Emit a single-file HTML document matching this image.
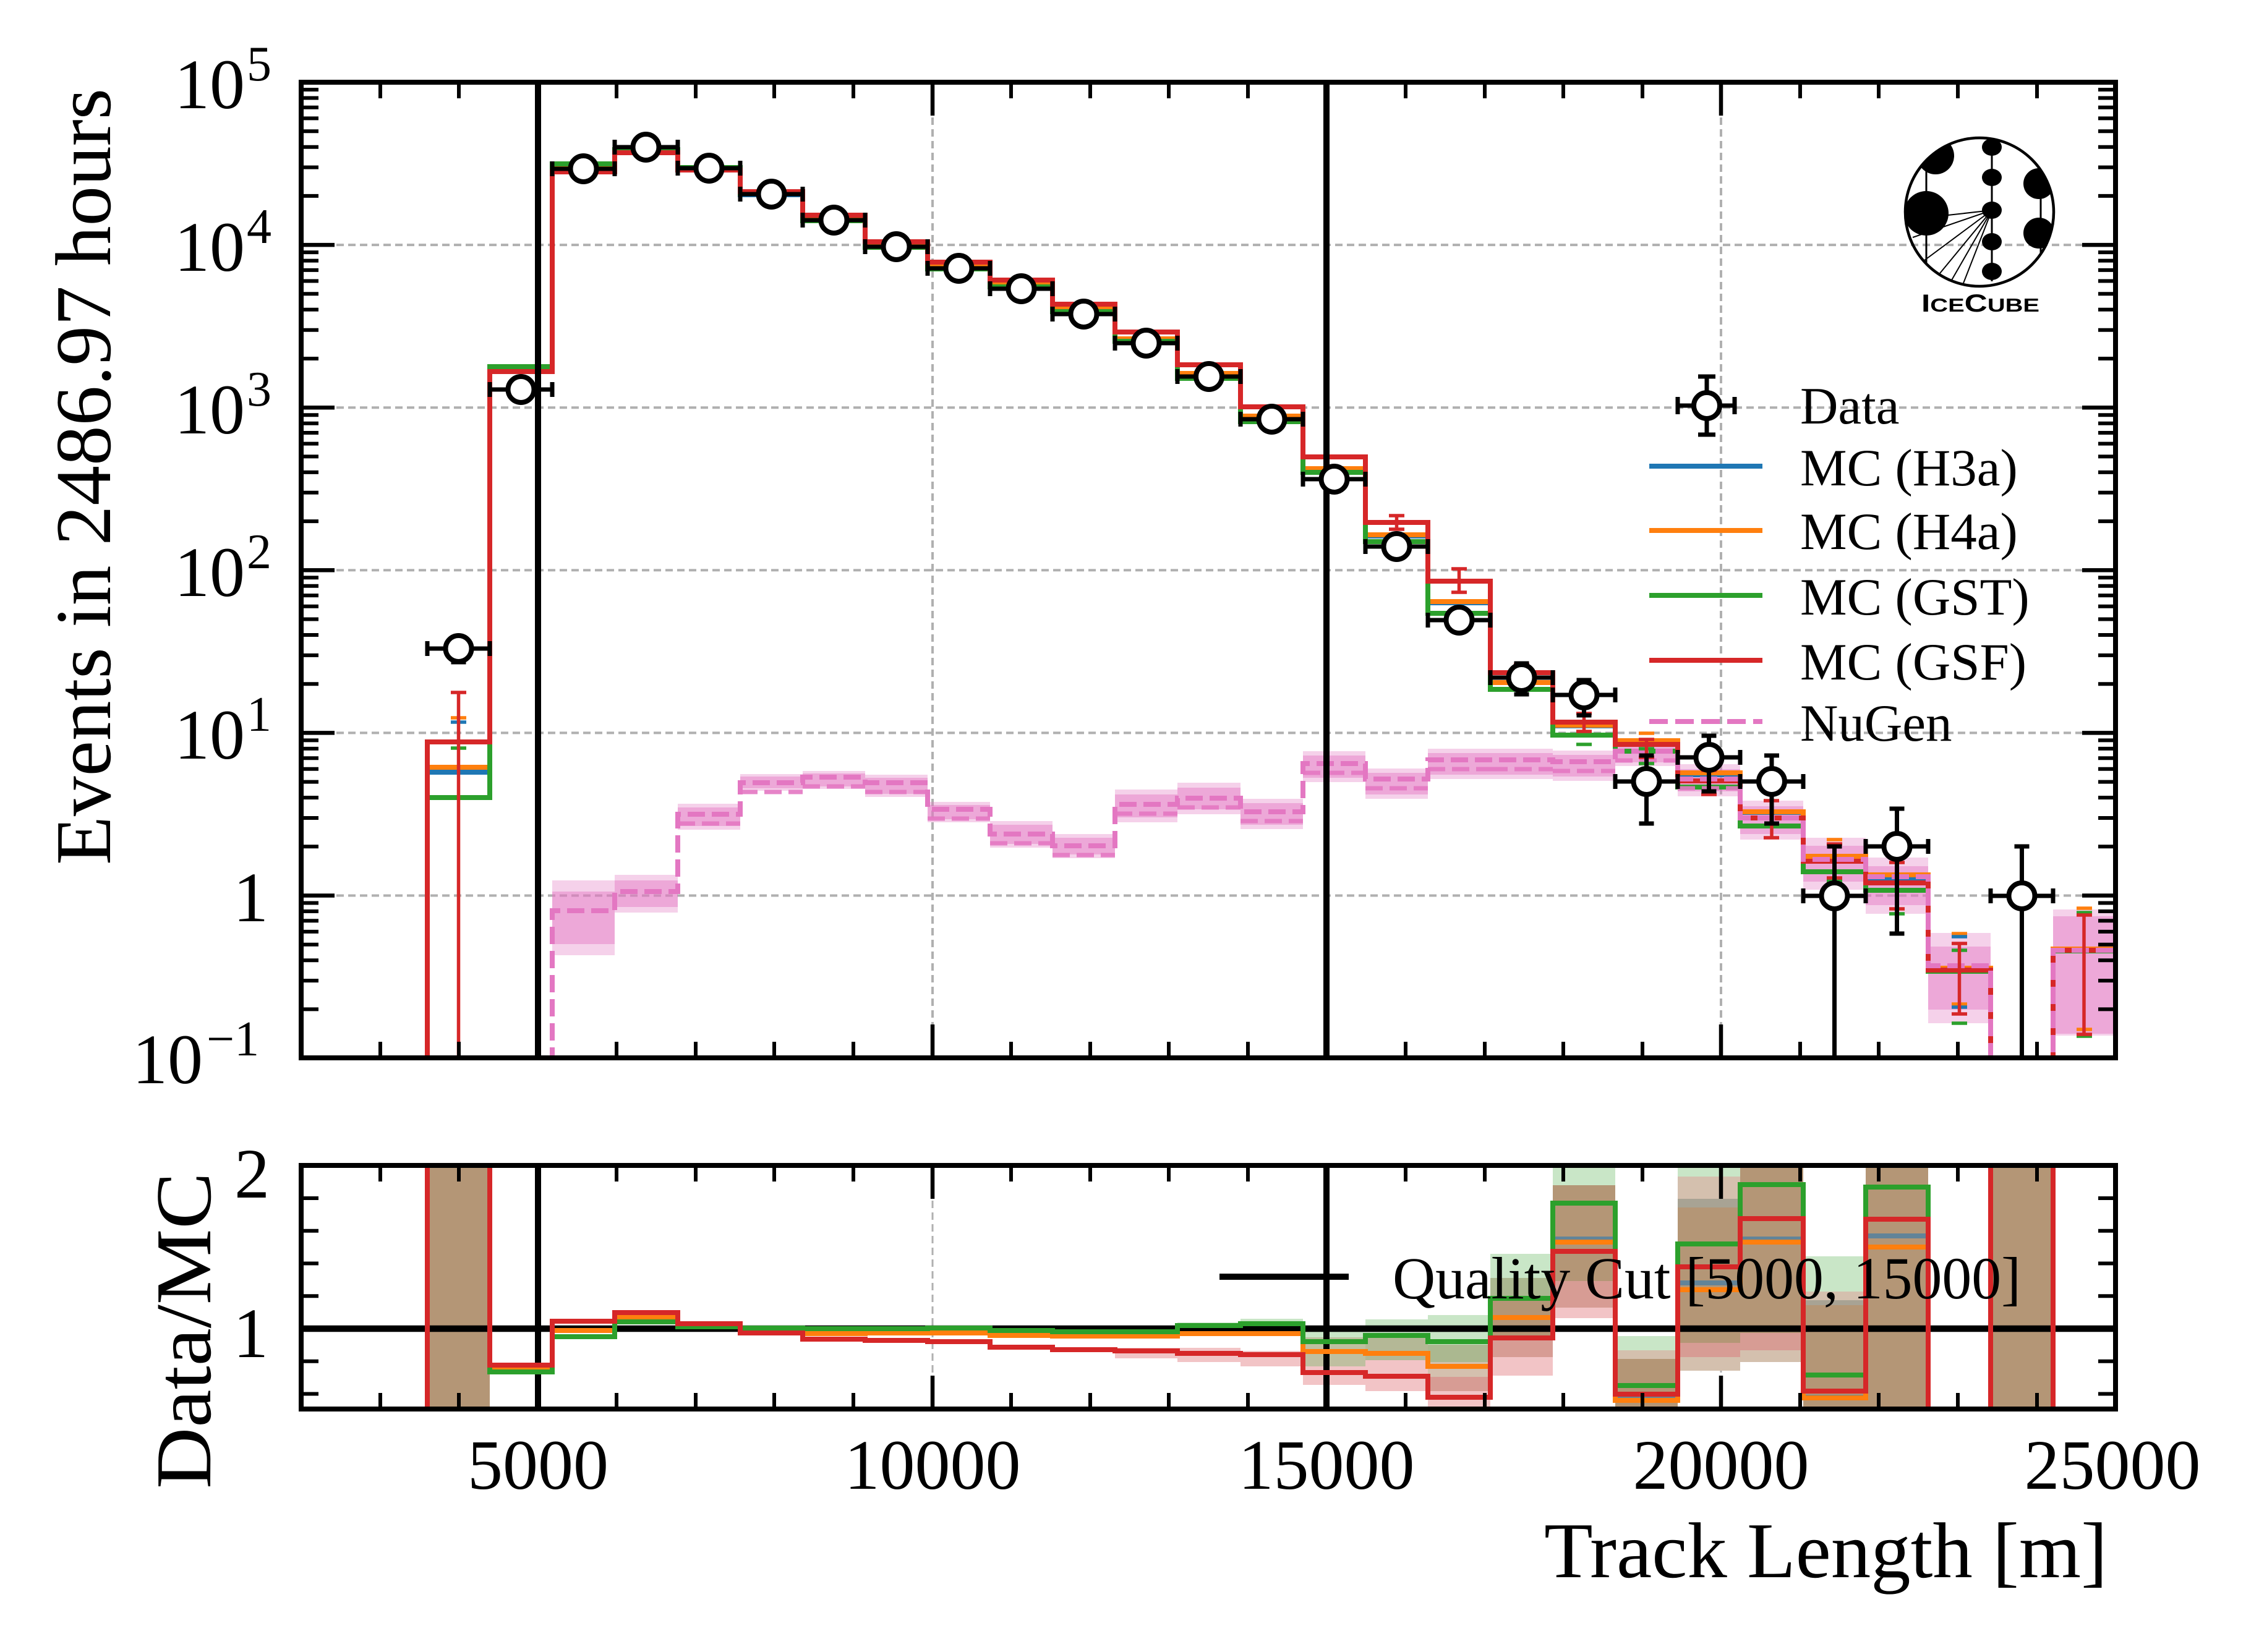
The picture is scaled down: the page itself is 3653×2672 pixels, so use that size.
<!DOCTYPE html>
<html><head><meta charset="utf-8">
<style>html,body{margin:0;padding:0;background:#fff}svg{display:block}</style>
</head><body>
<svg xmlns="http://www.w3.org/2000/svg" width="3653" height="2672" viewBox="0 0 3653 2672" font-family="'Liberation Serif', serif">
<defs>
<clipPath id="cm"><rect x="487" y="133" width="2934" height="1578"/></clipPath>
<clipPath id="cr"><rect x="487" y="1885" width="2934" height="394"/></clipPath>
<clipPath id="cl"><circle cx="3201" cy="343" r="120"/></clipPath>
</defs>
<rect width="3653" height="2672" fill="#fff"/>

<!-- ===== MAIN PLOT ===== -->
<g clip-path="url(#cm)">
<g stroke="#b0b0b0" stroke-width="4" stroke-dasharray="12 7" fill="none">
<path d="M487 396.1H3421M487 659.2H3421M487 922.3H3421M487 1185.4H3421M487 1448.5H3421M1508 133V1711M2783 133V1711"/>
</g>
<g fill="#e377c2" fill-opacity="0.34">
<rect x="893" y="1424" width="101" height="121"/><rect x="994" y="1415" width="102" height="61"/>
<rect x="1096" y="1300" width="101" height="42"/><rect x="1197" y="1252" width="101" height="27"/>
<rect x="1298" y="1247" width="101" height="29"/><rect x="1399" y="1253" width="101" height="36"/>
<rect x="1500" y="1297" width="101" height="33"/><rect x="1601" y="1328" width="101" height="43"/>
<rect x="1702" y="1349" width="101" height="39"/><rect x="1803" y="1277" width="101" height="53"/>
<rect x="1904" y="1266" width="102" height="51"/><rect x="2006" y="1292" width="101" height="49"/>
<rect x="2107" y="1215" width="101" height="50"/><rect x="2208" y="1243" width="101" height="49"/>
<rect x="2309" y="1211" width="101" height="49"/><rect x="2410" y="1211" width="101" height="49"/>
<rect x="2511" y="1214" width="101" height="49"/><rect x="2612" y="1201" width="101" height="38"/>
<rect x="2713" y="1236" width="101" height="52"/><rect x="2814" y="1295" width="102" height="63"/>
<rect x="2916" y="1355" width="101" height="84"/><rect x="3017" y="1387" width="101" height="91"/>
<rect x="3118" y="1509" width="101" height="146"/><rect x="3320" y="1471" width="101" height="204"/>
</g>
<g fill="#e377c2" fill-opacity="0.46">
<rect x="893" y="1442" width="101" height="85"/><rect x="994" y="1424" width="102" height="43"/>
<rect x="1096" y="1306" width="101" height="30"/><rect x="1197" y="1256" width="101" height="19"/>
<rect x="1298" y="1251" width="101" height="21"/><rect x="1399" y="1258" width="101" height="26"/>
<rect x="1500" y="1302" width="101" height="23"/><rect x="1601" y="1334" width="101" height="31"/>
<rect x="1702" y="1355" width="101" height="27"/><rect x="1803" y="1285" width="101" height="37"/>
<rect x="1904" y="1274" width="102" height="35"/><rect x="2006" y="1299" width="101" height="35"/>
<rect x="2107" y="1222" width="101" height="36"/><rect x="2208" y="1250" width="101" height="35"/>
<rect x="2309" y="1218" width="101" height="35"/><rect x="2410" y="1218" width="101" height="35"/>
<rect x="2511" y="1221" width="101" height="35"/><rect x="2612" y="1207" width="101" height="26"/>
<rect x="2713" y="1244" width="101" height="36"/><rect x="2814" y="1304" width="102" height="45"/>
<rect x="2916" y="1368" width="101" height="58"/><rect x="3017" y="1401" width="101" height="63"/>
<rect x="3118" y="1531" width="101" height="102"/><rect x="3320" y="1482" width="101" height="190"/>
</g>
<g fill="none" stroke-width="8" stroke-linejoin="miter">
<path stroke="#1f77b4" d="M691 1800V1249H792V599H893V273H994V246H1096V275H1197V315H1298V354H1399V398H1500V433H1601V463H1702V502H1803V550H1904V606H2006V675H2107V760H2208V867H2309V975H2410V1104H2511V1174H2612V1202H2713V1253H2814V1314H2916V1386H3017V1420H3118V1567H3219V1800H3320V1536H3421V1800"/>
<path stroke="#ff7f0e" d="M691 1800V1241H792V597H893V271H994V244H1096V273H1197V313H1298V352H1399V396H1500V431H1601V461H1702V500H1803V548H1904V604H2006V673H2107V758H2208V865H2309V973H2410V1104H2511V1173H2612V1198H2713V1250H2814V1313H2916V1385H3017V1415H3118V1566H3219V1800H3320V1535H3421V1800"/>
<path stroke="#2ca02c" d="M691 1800V1290H792V593H893V265H994V242H1096V271H1197V313H1298V357H1399V400H1500V435H1601V464H1702V504H1803V552H1904V612H2006V682H2107V764H2208V876H2309V992H2410V1115H2511V1189H2612V1215H2713V1273H2814V1336H2916V1410H3017V1440H3118V1571H3219V1800H3320V1538H3421V1800"/>
<path stroke="#d62728" d="M691 1800V1200H792V601H893V278H994V247H1096V275H1197V310H1298V348H1399V391H1500V424H1601V453H1702V492H1803V537H1904V590H2006V658H2107V739H2208V845H2309V940H2410V1088H2511V1168H2612V1204H2713V1263H2814V1323H2916V1393H3017V1428H3118V1569H3219V1800H3320V1537H3421V1800"/>
</g>
<path fill="none" stroke="#e377c2" stroke-width="8" stroke-dasharray="28 11" d="M893 1800V1473H994V1442H1096V1317H1197V1266H1298V1257H1399V1266H1500V1309H1601V1349H1702V1368H1803V1301H1904V1291H2006V1313H2107V1235H2208V1260H2309V1229H2410V1229H2511V1232H2612V1215H2713V1260H2814V1323H2916V1390H3017V1418H3118V1562H3219V1800H3320V1537H3421V1800"/>
<path fill="none" stroke="#e377c2" stroke-width="7" stroke-dasharray="28 11" stroke-opacity="0.9" d="M1096 1332H1197M1197 1281H1298M1298 1272H1399M1399 1281H1500M1500 1324H1601M1601 1364H1702M1702 1383H1803M1803 1316H1904M1904 1306H2006M2006 1328H2107M2107 1250H2208M2208 1275H2309M2309 1244H2410M2410 1244H2511M2511 1247H2612M2612 1230H2713M2713 1275H2814"/>
<g stroke-width="5.5" fill="none">
<path stroke="#ff7f0e" d="M729 1161h25M2650 1186h25M3156 1510h25M3156 1624h25M3358 1469h25M3358 1665h25M2954 1358h25"/>
<path stroke="#1f77b4" d="M729 1168h25M3156 1515h25M3156 1629h25"/>
<path stroke="#2ca02c" d="M729 1210h25M2549 1204h25M2650 1211h25M2650 1235h25M3156 1537h25M3156 1655h25M3358 1476h25M3358 1676h25M3055 1478h25M2954 1425h25"/>
<path stroke="#d62728" d="M741.5 1120V1800M729 1120h25M2258.5 834V856M2246 834h25M2246 856h25M2359.5 920V958M2347 920h25M2347 958h25M2460.5 1075V1102M2448 1075h25M2448 1102h25M2561.5 1154V1183M2549 1154h25M2549 1183h25M2662.5 1196V1225M2650 1196h25M2650 1225h25M2763.5 1246V1285M2751 1246h25M2751 1285h25M2865 1295V1355M2852 1295h25M2852 1355h25M2966.5 1365V1420M2954 1365h25M2954 1420h25M3067.5 1395V1470M3055 1395h25M3055 1470h25M3168.5 1526V1640M3156 1526h25M3156 1640h25M3370 1480V1673M3358 1480h25M3358 1673h25"/>
</g>
<path stroke="#000" stroke-width="10" d="M870 133V1711M2145 133V1711"/>
<path fill="none" stroke="#000" stroke-width="7" d="M691 1049H792M691 1037v24M792 1037v24M792 630H893M792 618v24M893 618v24M893 273H994M893 261v24M994 261v24M994 238H1096M994 226v24M1096 226v24M1096 272H1197M1096 260v24M1197 260v24M1197 314H1298M1197 302v24M1298 302v24M1298 356H1399M1298 344v24M1399 344v24M1399 399H1500M1399 387v24M1500 387v24M1500 434H1601M1500 422v24M1601 422v24M1601 467H1702M1601 455v24M1702 455v24M1702 508H1803M1702 496v24M1803 496v24M1803 555H1904M1803 543v24M1904 543v24M1904 609H2006M1904 597v24M2006 597v24M2006 678H2107M2006 666v24M2107 666v24M2107 775H2208M2107 763v24M2208 763v24M2208 884H2309M2208 872v24M2309 872v24M2309 1003H2410M2309 991v24M2410 991v24M2410 1096H2511M2410 1084v24M2511 1084v24M2511 1124H2612M2511 1112v24M2612 1112v24M2612 1264H2713M2612 1252v24M2713 1252v24M2713 1225H2814M2713 1213v24M2814 1213v24M2814 1264H2916M2814 1252v24M2916 1252v24M2916 1449H3017M2916 1437v24M3017 1437v24M3017 1369H3118M3017 1357v24M3118 1357v24M3219 1449H3320M3219 1437v24M3320 1437v24
M741.5 1031V1071M729.5 1031h24M729.5 1071h24M2359.5 989V1021M2347.5 989h24M2347.5 1021h24M2460.5 1073V1123M2448.5 1073h24M2448.5 1123h24M2561.5 1100V1157M2549.5 1100h24M2549.5 1157h24M2662.5 1222V1332M2650.5 1222h24M2650.5 1332h24M2763.5 1190V1280M2751.5 1190h24M2751.5 1280h24M2865 1222V1332M2853 1222h24M2853 1332h24M2966.5 1369V1800M2954.5 1369h24M3067.5 1308V1510M3055.5 1308h24M3055.5 1510h24M3269.5 1369V1800M3257.5 1369h24"/>
<g fill="#fff" stroke="#000" stroke-width="8">
<circle cx="741.5" cy="1049" r="21"/><circle cx="842.5" cy="630" r="21"/><circle cx="943.5" cy="273" r="21"/>
<circle cx="1044.5" cy="238" r="21"/><circle cx="1146.5" cy="272" r="21"/><circle cx="1247.5" cy="314" r="21"/>
<circle cx="1348.5" cy="356" r="21"/><circle cx="1449.5" cy="399" r="21"/><circle cx="1550.5" cy="434" r="21"/>
<circle cx="1651.5" cy="467" r="21"/><circle cx="1752.5" cy="508" r="21"/><circle cx="1853.5" cy="555" r="21"/>
<circle cx="1955" cy="609" r="21"/><circle cx="2056.5" cy="678" r="21"/><circle cx="2157.5" cy="775" r="21"/>
<circle cx="2258.5" cy="884" r="21"/><circle cx="2359.5" cy="1003" r="21"/><circle cx="2460.5" cy="1096" r="21"/>
<circle cx="2561.5" cy="1124" r="21"/><circle cx="2662.5" cy="1264" r="21"/><circle cx="2763.5" cy="1225" r="21"/>
<circle cx="2865" cy="1264" r="21"/><circle cx="2966.5" cy="1449" r="21"/><circle cx="3067.5" cy="1369" r="21"/>
<circle cx="3269.5" cy="1449" r="21"/>
</g>
</g>

<!-- Main ticks -->
<g stroke="#000" fill="none">
<path stroke-width="6.5" d="M870 1711v-54M1508 1711v-54M2145 1711v-54M2783 1711v-54M870 133v54M1508 133v54M2145 133v54M2783 133v54
M487 1448.5h54M487 1185.4h54M487 922.3h54M487 659.2h54M487 396.1h54M3421 1448.5h-54M3421 1185.4h-54M3421 922.3h-54M3421 659.2h-54M3421 396.1h-54"/>
<path stroke-width="6" d="M615 1711v-26M742 1711v-26M997 1711v-26M1125 1711v-26M1252 1711v-26M1380 1711v-26M1635 1711v-26M1763 1711v-26M1890 1711v-26M2018 1711v-26M2273 1711v-26M2401 1711v-26M2528 1711v-26M2656 1711v-26M2911 1711v-26M3038 1711v-26M3166 1711v-26M3294 1711v-26
M615 133v26M742 133v26M997 133v26M1125 133v26M1252 133v26M1380 133v26M1635 133v26M1763 133v26M1890 133v26M2018 133v26M2273 133v26M2401 133v26M2528 133v26M2656 133v26M2911 133v26M3038 133v26M3166 133v26M3294 133v26
M487 1632.4h28M487 1586.1h28M487 1553.2h28M487 1527.7h28M487 1506.9h28M487 1489.3h28M487 1474h28M487 1460.5h28
M487 1369.3h28M487 1323h28M487 1290.1h28M487 1264.6h28M487 1243.8h28M487 1226.2h28M487 1210.9h28M487 1197.4h28
M487 1106.2h28M487 1059.9h28M487 1027h28M487 1001.5h28M487 980.7h28M487 963.1h28M487 947.8h28M487 934.3h28
M487 843.1h28M487 796.8h28M487 763.9h28M487 738.4h28M487 717.6h28M487 700h28M487 684.7h28M487 671.2h28
M487 580h28M487 533.7h28M487 500.8h28M487 475.3h28M487 454.5h28M487 436.9h28M487 421.6h28M487 408.1h28
M487 316.9h28M487 270.6h28M487 237.7h28M487 212.2h28M487 191.4h28M487 173.8h28M487 158.5h28M487 145h28
M3421 1632.4h-28M3421 1586.1h-28M3421 1553.2h-28M3421 1527.7h-28M3421 1506.9h-28M3421 1489.3h-28M3421 1474h-28M3421 1460.5h-28
M3421 1369.3h-28M3421 1323h-28M3421 1290.1h-28M3421 1264.6h-28M3421 1243.8h-28M3421 1226.2h-28M3421 1210.9h-28M3421 1197.4h-28
M3421 1106.2h-28M3421 1059.9h-28M3421 1027h-28M3421 1001.5h-28M3421 980.7h-28M3421 963.1h-28M3421 947.8h-28M3421 934.3h-28
M3421 843.1h-28M3421 796.8h-28M3421 763.9h-28M3421 738.4h-28M3421 717.6h-28M3421 700h-28M3421 684.7h-28M3421 671.2h-28
M3421 580h-28M3421 533.7h-28M3421 500.8h-28M3421 475.3h-28M3421 454.5h-28M3421 436.9h-28M3421 421.6h-28M3421 408.1h-28
M3421 316.9h-28M3421 270.6h-28M3421 237.7h-28M3421 212.2h-28M3421 191.4h-28M3421 173.8h-28M3421 158.5h-28M3421 145h-28"/>
</g>
<rect x="487" y="133" width="2934" height="1578" fill="none" stroke="#000" stroke-width="8"/>

<!-- Legend -->
<g font-size="85">
<path fill="none" stroke="#000" stroke-width="7" d="M2713 656H2805M2713 642v28M2805 642v28M2760 609V703M2746 609h28M2746 703h28"/>
<circle cx="2760" cy="656" r="21" fill="#fff" stroke="#000" stroke-width="8"/>
<text x="2911" y="685">Data</text>
<path stroke="#1f77b4" stroke-width="8" d="M2667 754H2850"/><text x="2911" y="785">MC (H3a)</text>
<path stroke="#ff7f0e" stroke-width="8" d="M2667 858H2850"/><text x="2911" y="888">MC (H4a)</text>
<path stroke="#2ca02c" stroke-width="8" d="M2667 963H2850"/><text x="2911" y="994">MC (GST)</text>
<path stroke="#d62728" stroke-width="8" d="M2667 1068H2850"/><text x="2911" y="1099">MC (GSF)</text>
<path stroke="#e377c2" stroke-width="8" stroke-dasharray="30 12" d="M2667 1167H2850"/><text x="2911" y="1198">NuGen</text>
</g>

<!-- IceCube logo -->
<g>
<g clip-path="url(#cl)" fill="#000">
<circle cx="3130" cy="252" r="30"/>
<circle cx="3115" cy="345" r="36"/>
<circle cx="3297" cy="297" r="25"/>
<circle cx="3297" cy="377" r="25"/>
<path stroke="#000" stroke-width="3" d="M3115 260V430M3300 280V420"/>
<path stroke="#000" stroke-width="2" fill="none" d="M3221 340L3150 348M3221 340L3093 384M3221 340L3112 421M3221 340L3137 442M3221 340L3156 453M3221 340L3175 458"/>
</g>
<circle cx="3201" cy="343" r="120" fill="none" stroke="#000" stroke-width="4.5"/>
<path stroke="#000" stroke-width="3" d="M3221 224V455"/>
<g fill="#000">
<ellipse cx="3221" cy="238" rx="16" ry="14"/><ellipse cx="3221" cy="287" rx="16" ry="14"/>
<ellipse cx="3221" cy="340" rx="16" ry="14"/><ellipse cx="3221" cy="391" rx="16" ry="14"/>
<ellipse cx="3221" cy="439" rx="16" ry="14"/>
</g>
<text x="3107" y="504" font-family="'Liberation Sans', sans-serif" font-weight="bold" textLength="191" lengthAdjust="spacingAndGlyphs"><tspan font-size="40">I</tspan><tspan font-size="31">CE</tspan><tspan font-size="40">C</tspan><tspan font-size="31">UBE</tspan></text>
</g>

<!-- Main y tick labels -->
<g font-size="114">
<text x="396" y="175" text-anchor="end">10</text><text x="399" y="130" font-size="80">5</text>
<text x="396" y="438" text-anchor="end">10</text><text x="399" y="393" font-size="80">4</text>
<text x="396" y="701" text-anchor="end">10</text><text x="399" y="656" font-size="80">3</text>
<text x="396" y="964" text-anchor="end">10</text><text x="399" y="919" font-size="80">2</text>
<text x="396" y="1227" text-anchor="end">10</text><text x="399" y="1182" font-size="80">1</text>
<text x="434" y="1490" text-anchor="end">1</text>
<text x="328" y="1752" text-anchor="end">10</text><text x="334" y="1707" font-size="80">−1</text>
</g>

<!-- ===== RATIO PLOT ===== -->
<g clip-path="url(#cr)">
<path stroke="#b0b0b0" stroke-width="3" stroke-dasharray="12 7" d="M1508 1885V2279M2783 1885V2279"/>
<g>
<rect x="691" y="1885" width="101" height="394" fill="#b49676"/>
<rect x="3219" y="1885" width="101" height="394" fill="#b49676"/>
<rect x="3017" y="1885" width="101" height="394" fill="#b49676"/>
<rect x="1803" y="2180" width="101" height="17" fill="#f2c4c6"/>
<rect x="1904" y="2180" width="102" height="23" fill="#f2c4c6"/>
<rect x="2006" y="2185" width="101" height="25" fill="#f2c4c6"/>
<rect x="1904" y="2139" width="102" height="8" fill="#c9e6c7"/>
<rect x="2006" y="2133" width="101" height="14" fill="#c9e6c7"/>
<rect x="2107" y="2153" width="101" height="10" fill="#c9e6c7"/><rect x="2107" y="2163" width="101" height="47" fill="#bfbfa0"/><rect x="2107" y="2210" width="101" height="30" fill="#f2c4c6"/>
<rect x="2208" y="2134" width="101" height="23" fill="#c9e6c7"/><rect x="2208" y="2157" width="101" height="43" fill="#b4b896"/><rect x="2208" y="2200" width="101" height="50" fill="#f2c4c6"/>
<rect x="2309" y="2127" width="101" height="48" fill="#c9e6c7"/><rect x="2309" y="2175" width="101" height="28" fill="#abb890"/><rect x="2309" y="2203" width="101" height="24" fill="#d4c0ae"/><rect x="2309" y="2227" width="101" height="23" fill="#d79c94"/><rect x="2309" y="2250" width="101" height="29" fill="#f2c4c6"/>
<rect x="2410" y="2028" width="101" height="39" fill="#c9e6c7"/><rect x="2410" y="2067" width="101" height="33" fill="#abb890"/><rect x="2410" y="2100" width="101" height="61" fill="#b49676"/><rect x="2410" y="2161" width="101" height="34" fill="#d79c94"/><rect x="2410" y="2195" width="101" height="30" fill="#f2c4c6"/>
<rect x="2511" y="1885" width="101" height="32" fill="#c9e6c7"/><rect x="2511" y="1917" width="101" height="155" fill="#b49676"/><rect x="2511" y="2072" width="101" height="43" fill="#d79c94"/><rect x="2511" y="2115" width="101" height="17" fill="#f2c4c6"/>
<rect x="2612" y="2161" width="101" height="23" fill="#c9e6c7"/><rect x="2612" y="2184" width="101" height="14" fill="#d4c0ae"/><rect x="2612" y="2198" width="101" height="81" fill="#b49676"/>
<rect x="2713" y="1885" width="101" height="18" fill="#c9e6c7"/><rect x="2713" y="1903" width="101" height="36" fill="#d4c0ae"/><rect x="2713" y="1939" width="101" height="14" fill="#a8a394"/><rect x="2713" y="1953" width="101" height="219" fill="#b49676"/><rect x="2713" y="2172" width="101" height="23" fill="#d79c94"/><rect x="2713" y="2195" width="101" height="22" fill="#d4c0ae"/>
<rect x="2814" y="1885" width="102" height="271" fill="#b49676"/><rect x="2814" y="2156" width="102" height="28" fill="#d79c94"/><rect x="2814" y="2184" width="102" height="19" fill="#d4c0ae"/>
<rect x="2916" y="2032" width="101" height="57" fill="#c9e6c7"/><rect x="2916" y="2089" width="101" height="14" fill="#d4c0ae"/><rect x="2916" y="2103" width="101" height="8" fill="#a8a394"/><rect x="2916" y="2111" width="101" height="168" fill="#b49676"/>
</g>
<path stroke="#000" stroke-width="10.5" d="M487 2149H3421"/>
<path stroke="#000" stroke-width="10" d="M870 1885V2279M2145 1885V2279"/>
<g fill="none" stroke-width="8">
<path stroke="#1f77b4" stroke-opacity="0.55" d="M691 2300V1860H792V2216H893V2152H994V2131H1096V2145H1197V2149H1298V2157H1399V2156H1500V2156H1601V2160H1702V2161H1803V2161H1904V2157H2006V2157H2107V2186H2208V2189H2309V2210H2410V2131H2511V2004H2612V2260H2713V2075H2814V2004H2916V2260H3017V1999H3118V2300H3219V1860H3320V2300H3421"/>
<path stroke="#ff7f0e" d="M691 2300V1860H792V2215H893V2152H994V2131H1096V2145H1197V2149H1298V2157H1399V2156H1500V2156H1601V2160H1702V2161H1803V2161H1904V2157H2006V2157H2107V2186H2208V2189H2309V2210H2410V2131H2511V2009H2612V2265H2713V2086H2814V2009H2916V2261H3017V2017H3118V2300H3219V1860H3320V2300H3421"/>
<path stroke="#2ca02c" d="M691 2300V1860H792V2219H893V2162H994V2138H1096V2146H1197V2148H1298V2149H1399V2149H1500V2148H1601V2152H1702V2154H1803V2154H1904V2144H2006V2141H2107V2170H2208V2160H2309V2170H2410V2100H2511V1946H2612V2241H2713V2012H2814V1916H2916V2224H3017V1920H3118V2300H3219V1860H3320V2300H3421"/>
<path stroke="#d62728" d="M691 2300V1860H792V2208H893V2137H994V2123H1096V2141H1197V2156H1298V2166H1399V2168H1500V2170H1601V2179H1702V2183H1803V2185H1904V2189H2006V2191H2107V2220H2208V2226H2309V2260H2410V2164H2511V2024H2612V2255H2713V2049H2814V1971H2916V2250H3017V1972H3118V2300H3219V1860H3320V2300H3421"/>
</g>
</g>
<g stroke="#000" fill="none">
<path stroke-width="6.5" d="M870 2279v-54M1508 2279v-54M2145 2279v-54M2783 2279v-54M870 1885v54M1508 1885v54M2145 1885v54M2783 1885v54M487 2149h54M3421 2149h-54"/>
<path stroke-width="6" d="M615 2279v-26M742 2279v-26M997 2279v-26M1125 2279v-26M1252 2279v-26M1380 2279v-26M1635 2279v-26M1763 2279v-26M1890 2279v-26M2018 2279v-26M2273 2279v-26M2401 2279v-26M2528 2279v-26M2656 2279v-26M2911 2279v-26M3038 2279v-26M3166 2279v-26M3294 2279v-26
M615 1885v26M742 1885v26M997 1885v26M1125 1885v26M1252 1885v26M1380 1885v26M1635 1885v26M1763 1885v26M1890 1885v26M2018 1885v26M2273 1885v26M2401 1885v26M2528 1885v26M2656 1885v26M2911 1885v26M3038 1885v26M3166 1885v26M3294 1885v26
M487 2254.5h28M487 2201.7h28M487 2096.3h28M487 2043.5h28M487 1990.8h28M487 1938h28
M3421 2254.5h-28M3421 2201.7h-28M3421 2096.3h-28M3421 2043.5h-28M3421 1990.8h-28M3421 1938h-28"/>
</g>
<rect x="487" y="1885" width="2934" height="394" fill="none" stroke="#000" stroke-width="8"/>

<path stroke="#000" stroke-width="10" d="M1972 2065H2181"/>
<text x="2252" y="2100" font-size="96" textLength="1016" lengthAdjust="spacingAndGlyphs">Quality Cut [5000, 15000]</text>

<g font-size="114">
<text x="436" y="1937" text-anchor="end">2</text>
<text x="434" y="2195" text-anchor="end">1</text>
</g>

<g font-size="114" text-anchor="middle">
<text x="870" y="2408">5000</text>
<text x="1508" y="2408">10000</text>
<text x="2145" y="2408">15000</text>
<text x="2783" y="2408">20000</text>
<text x="3416" y="2408">25000</text>
</g>

<text x="2497" y="2551" font-size="128" textLength="911" lengthAdjust="spacingAndGlyphs">Track Length [m]</text>
<text transform="translate(178,771) rotate(-90)" text-anchor="middle" font-size="128" textLength="1256" lengthAdjust="spacingAndGlyphs">Events in 2486.97 hours</text>
<text transform="translate(340,2152) rotate(-90)" text-anchor="middle" font-size="128" textLength="512" lengthAdjust="spacingAndGlyphs">Data/MC</text>
</svg>
</body></html>
